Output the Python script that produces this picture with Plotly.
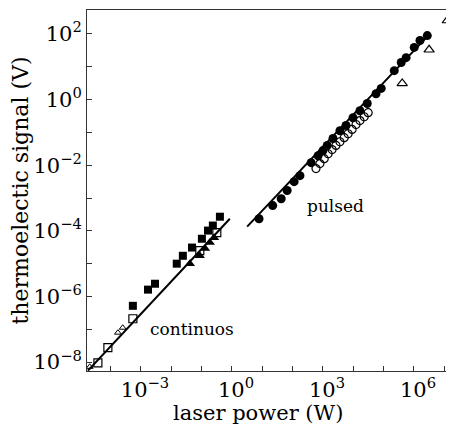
import numpy as np
import plotly.graph_objects as go

# pulsed regime
pulsed_full_x = [7.8, 22, 42, 66, 112, 174, 407, 692, 1000, 1380, 2140, 3630, 5750, 9770,
                 1.66e4, 2.88e4, 5.62e4, 8.32e4, 2.24e5, 3.8e5, 5.5e5, 1.02e6, 1.58e6, 2.75e6]
pulsed_full_y = [2.34e-4, 5.9e-4, 9.5e-4, 1.7e-3, 3.16e-3, 4.8e-3, 1.2e-2, 1.95e-2, 2.8e-2, 4.0e-2,
                 6.5e-2, 0.112, 0.162, 0.28, 0.457, 0.76, 1.51, 2.19, 7.6, 13.5, 19, 39, 63, 89]
pulsed_open_x = [589, 794, 1100, 1480, 2000, 2690, 3630, 5010, 6760, 9120, 1.23e4, 1.66e4, 2.29e4, 3.09e4]
pulsed_open_y = [7.9e-3, 1.12e-2, 1.58e-2, 2.24e-2, 3.0e-2, 4.0e-2, 5.2e-2, 6.9e-2, 9.1e-2,
                 0.123, 0.174, 0.229, 0.30, 0.40]
pulsed_tri_x = [4.1e5, 3.16e6, 1.26e7]
pulsed_tri_y = [3.1, 33, 257]
pulsed_fit_x = [3.16, 3.39e6]
pulsed_fit_y = [1.35e-4, 102]

# continuous regime
cw_sq_x = [5.4e-4, 1.7e-3, 2.9e-3, 1.51e-2, 2.4e-2, 4.8e-2, 0.102, 0.162, 0.234, 0.40]
cw_sq_y = [5.2e-7, 1.62e-6, 2.45e-6, 1.0e-5, 1.74e-5, 3.1e-5, 5.75e-5, 1.02e-4, 1.45e-4, 2.7e-4]
cw_opensq_x = [3.8e-5, 8.1e-5, 5.4e-4, 8.7e-2, 0.316]
cw_opensq_y = [9.5e-9, 2.75e-8, 2.1e-7, 2.5e-5, 8.9e-5]
cw_tri_x = [4.1e-2, 8.7e-2, 0.129, 0.186, 0.257]
cw_tri_y = [1.0e-5, 1.74e-5, 2.9e-5, 4.4e-5, 6.2e-5]
cw_opentri_x = [2.04e-5, 1.74e-4, 2.5e-4]
cw_opentri_y = [7.2e-9, 7.9e-8, 1.12e-7]
cw_fit_x = [1.78e-5, 0.85]
cw_fit_y = [5.5e-9, 2.34e-4]

x_ticks = [1e-4, 1e-3, 1e-2, 1e-1, 1, 10, 100, 1e3, 1e4, 1e5, 1e6, 1e7]
x_text = ["", "10<sup>−3</sup>", "", "", "10<sup>0</sup>", "", "", "10<sup>3</sup>", "", "",
          "10<sup>6</sup>", ""]
y_ticks = [1e-8, 1e-7, 1e-6, 1e-5, 1e-4, 1e-3, 1e-2, 1e-1, 1, 10, 100]
y_text = ["10<sup>−8</sup>", "", "10<sup>−6</sup>", "", "10<sup>−4</sup>", "", "10<sup>−2</sup>", "",
          "10<sup>0</sup>", "", "10<sup>2</sup>"]

font = "DejaVu Serif"
fig = go.Figure()

fig.add_trace(go.Scatter(x=pulsed_fit_x, y=pulsed_fit_y, mode="lines", line=dict(color="black", width=2)))
fig.add_trace(go.Scatter(x=cw_fit_x, y=cw_fit_y, mode="lines", line=dict(color="black", width=2)))

fig.add_trace(go.Scatter(x=pulsed_open_x, y=pulsed_open_y, mode="markers",
                         marker=dict(symbol="circle-open", size=8, color="black", line=dict(width=1.2))))
fig.add_trace(go.Scatter(x=pulsed_full_x, y=pulsed_full_y, mode="markers",
                         marker=dict(symbol="circle", size=9, color="black")))
fig.add_trace(go.Scatter(x=pulsed_tri_x, y=pulsed_tri_y, mode="markers", cliponaxis=False,
                         marker=dict(symbol="triangle-up-open", size=9, color="black", line=dict(width=1.2))))

fig.add_trace(go.Scatter(x=cw_opensq_x, y=cw_opensq_y, mode="markers",
                         marker=dict(symbol="square-open", size=8, color="black", line=dict(width=1.2))))
fig.add_trace(go.Scatter(x=cw_opentri_x, y=cw_opentri_y, mode="markers",
                         marker=dict(symbol="triangle-up-open", size=6, color="black", line=dict(width=1))))
fig.add_trace(go.Scatter(x=cw_sq_x, y=cw_sq_y, mode="markers",
                         marker=dict(symbol="square", size=8, color="black")))
fig.add_trace(go.Scatter(x=cw_tri_x, y=cw_tri_y, mode="markers",
                         marker=dict(symbol="triangle-up", size=9, color="black")))

fig.add_annotation(x=np.log10(2510), y=np.log10(5.9e-4), text="pulsed", showarrow=False,
                   font=dict(family=font, size=17, color="black"))
fig.add_annotation(x=np.log10(0.048), y=np.log10(1.05e-7), text="continuos", showarrow=False,
                   font=dict(family=font, size=17, color="black"))
# x title sits a bit left of the plot centre in the original
fig.add_annotation(xref="paper", yref="paper", x=0.466, y=0, yshift=-42, yanchor="middle",
                   text="laser power (W)", showarrow=False,
                   font=dict(family=font, size=21, color="black"))

fig.update_xaxes(type="log", range=[-4.78, 7.32], tickvals=x_ticks, ticktext=x_text, automargin=False,
                 ticks="inside", ticklen=5, tickcolor="#333", showgrid=False, zeroline=False,
                 showline=True, linecolor="#333", linewidth=1, mirror=True, ticklabelshift=4,
                 tickfont=dict(family=font, size=21, color="black"))
fig.update_yaxes(type="log", range=[-8.27, 2.73], tickvals=y_ticks, ticktext=y_text, automargin=False,
                 ticks="inside", ticklen=5, tickcolor="#333", showgrid=False, zeroline=False,
                 showline=True, linecolor="#333", linewidth=1,
                 title=dict(text="thermoelectic signal (V)", font=dict(family=font, size=22, color="black"), standoff=0),
                 tickfont=dict(family=font, size=21, color="black"))

# the page body adds an 8px margin, so the plot area is shifted by that amount
fig.update_layout(width=454, height=436, showlegend=False,
                  margin=dict(l=79, r=8, t=2, b=73),
                  plot_bgcolor="white", paper_bgcolor="white")

fig.write_html("out.html")
